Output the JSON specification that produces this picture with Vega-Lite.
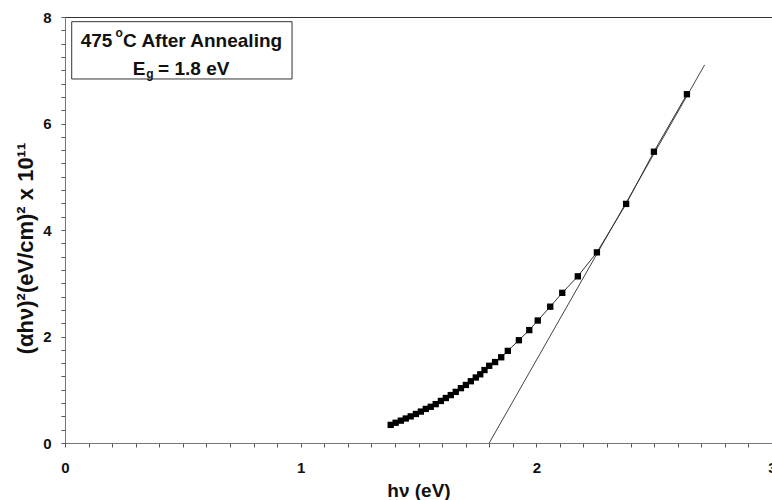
{
  "$schema": "https://vega.github.io/schema/vega-lite/v6.json",
  "width": 707,
  "height": 426,
  "autosize": {"type": "none"},
  "padding": {"left": 65, "top": 17, "right": 0, "bottom": 57},
  "background": "white",
  "config": {
    "view": {"stroke": "#333", "strokeWidth": 1},
    "font": "Liberation Sans",
    "axis": {
      "grid": false,
      "domainColor": "#777",
      "tickColor": "#555",
      "labelFont": "Liberation Sans",
      "labelFontWeight": "bold",
      "labelFontSize": 15,
      "labelColor": "#111",
      "titleFont": "Liberation Sans",
      "titleFontWeight": "bold",
      "titleColor": "#111",
      "labelOverlap": false,
      "labelFlush": false
    }
  },
  "encoding": {
    "x": {
      "field": "hv",
      "type": "quantitative",
      "scale": {"domain": [0, 3], "nice": false, "zero": false},
      "axis": {
        "title": "hν (eV)",
        "titleFontSize": 19,
        "titlePadding": 6,
        "values": [0, 0.1, 0.2, 0.3, 0.4, 0.5, 0.6, 0.7, 0.8, 0.9, 1, 1.1, 1.2, 1.3, 1.4, 1.5, 1.6, 1.7, 1.8, 1.9, 2, 2.1, 2.2, 2.3, 2.4, 2.5, 2.6, 2.7, 2.8, 2.9, 3],
        "labelExpr": "abs(datum.value - round(datum.value)) < 0.001 ? format(datum.value, 'd') : ''",
        "tickSize": 4,
        "labelPadding": 13
      }
    },
    "y": {
      "field": "y",
      "type": "quantitative",
      "scale": {"domain": [0, 8], "nice": false, "zero": false},
      "axis": {
        "title": "(αhν)²(eV/cm)² x 10¹¹",
        "titleFontSize": 22,
        "titlePadding": 5,
        "titleY": 231,
        "values": [0, 0.25, 0.5, 0.75, 1, 1.25, 1.5, 1.75, 2, 2.25, 2.5, 2.75, 3, 3.25, 3.5, 3.75, 4, 4.25, 4.5, 4.75, 5, 5.25, 5.5, 5.75, 6, 6.25, 6.5, 6.75, 7, 7.25, 7.5, 7.75, 8],
        "labelExpr": "abs(datum.value / 2 - round(datum.value / 2)) < 0.001 ? format(datum.value, 'd') : ''",
        "tickSize": 4,
        "labelPadding": 10
      }
    }
  },
  "layer": [
    {
      "data": {"values": [{"hv": 0.0285, "hv2": 0.9634, "y": 6.836, "y2": 7.912}]},
      "mark": {"type": "rect", "fill": "white", "stroke": "#333", "strokeWidth": 1},
      "encoding": {"x2": {"field": "hv2"}, "y2": {"field": "y2"}}
    },
    {
      "data": {"values": [{"hv": 1.8, "y": 0}, {"hv": 2.714, "y": 7.1}]},
      "mark": {"type": "line", "color": "#444", "strokeWidth": 1},
      "encoding": {}
    },
    {
      "data": {"name": "pts", "values": [
        {"hv": 1.382, "y": 0.34},
        {"hv": 1.403, "y": 0.38},
        {"hv": 1.425, "y": 0.42},
        {"hv": 1.446, "y": 0.46},
        {"hv": 1.467, "y": 0.50},
        {"hv": 1.489, "y": 0.545},
        {"hv": 1.510, "y": 0.59},
        {"hv": 1.531, "y": 0.64},
        {"hv": 1.552, "y": 0.68},
        {"hv": 1.573, "y": 0.73},
        {"hv": 1.595, "y": 0.79},
        {"hv": 1.616, "y": 0.845},
        {"hv": 1.637, "y": 0.90},
        {"hv": 1.658, "y": 0.96},
        {"hv": 1.680, "y": 1.03},
        {"hv": 1.701, "y": 1.09},
        {"hv": 1.722, "y": 1.16},
        {"hv": 1.743, "y": 1.23},
        {"hv": 1.762, "y": 1.29},
        {"hv": 1.780, "y": 1.37},
        {"hv": 1.800, "y": 1.45},
        {"hv": 1.825, "y": 1.52},
        {"hv": 1.851, "y": 1.61},
        {"hv": 1.879, "y": 1.73},
        {"hv": 1.926, "y": 1.93},
        {"hv": 1.970, "y": 2.12},
        {"hv": 2.006, "y": 2.30},
        {"hv": 2.059, "y": 2.56},
        {"hv": 2.110, "y": 2.82},
        {"hv": 2.176, "y": 3.13},
        {"hv": 2.257, "y": 3.58},
        {"hv": 2.381, "y": 4.49},
        {"hv": 2.499, "y": 5.47},
        {"hv": 2.639, "y": 6.55}
      ]},
      "mark": {"type": "line", "color": "#333", "strokeWidth": 1},
      "encoding": {}
    },
    {
      "data": {"name": "pts"},
      "mark": {"type": "point", "shape": "square", "filled": true, "size": 40, "color": "black", "opacity": 1},
      "encoding": {}
    },
    {
      "data": {"values": [
        {"hv": 0.0667, "y": 7.442, "t": "475"},
        {"hv": 0.2465, "y": 7.442, "t": "C After Annealing"},
        {"hv": 0.2877, "y": 6.911, "t": "E"},
        {"hv": 0.395, "y": 6.911, "t": "= 1.8 eV"}
      ]},
      "mark": {"type": "text", "align": "left", "baseline": "alphabetic", "font": "Liberation Sans", "fontWeight": "bold", "fontSize": 19, "color": "#111"},
      "encoding": {"text": {"field": "t"}}
    },
    {
      "data": {"values": [
        {"hv": 0.2146, "y": 7.63, "t": "o"},
        {"hv": 0.345, "y": 6.86, "t": "g"}
      ]},
      "mark": {"type": "text", "align": "left", "baseline": "alphabetic", "font": "Liberation Sans", "fontWeight": "bold", "fontSize": 12, "color": "#111"},
      "encoding": {"text": {"field": "t"}}
    }
  ]
}
